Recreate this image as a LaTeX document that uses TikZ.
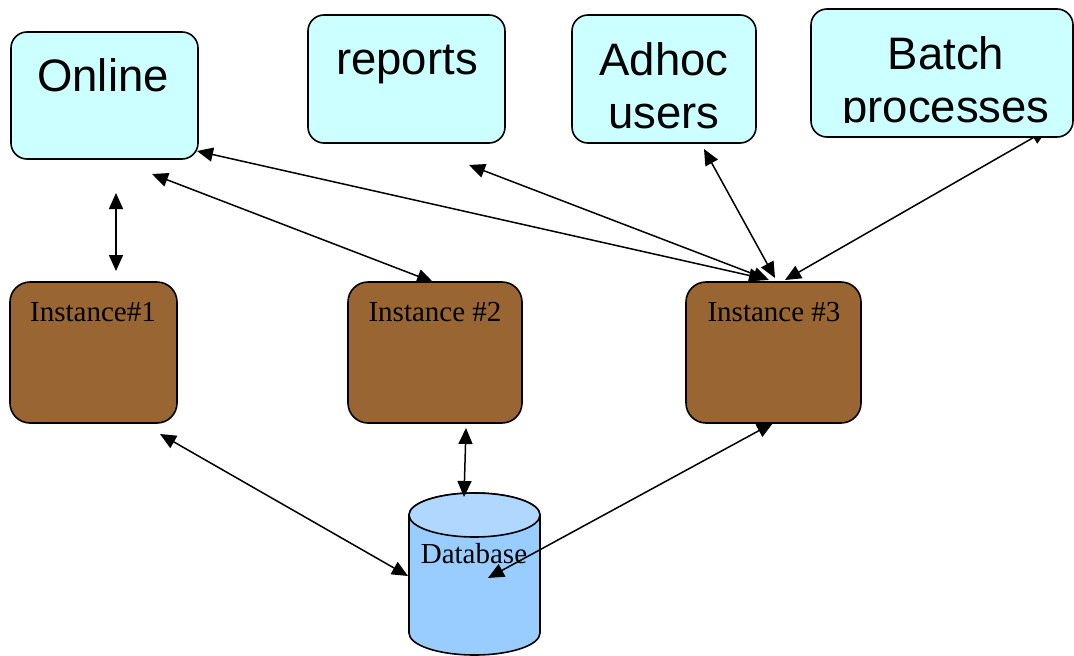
\documentclass[tikz,border=0pt]{standalone}
\usepackage{fontspec}
\setmainfont{Liberation Serif}
\newfontfamily\labelsans{Liberation Sans}
\usetikzlibrary{arrows.meta}
\definecolor{userfill}{HTML}{CCFFFF}
\definecolor{instfill}{HTML}{996633}
\definecolor{dbside}{HTML}{99CCFF}
\definecolor{dbtop}{HTML}{B0D8FF}
\tikzset{
  userbox/.style={draw=black, line width=1.6pt, fill=userfill, rounded corners=16pt, inner sep=0pt},
  instbox/.style={draw=black, line width=1.6pt, fill=instfill, rounded corners=20pt, inner sep=0pt,
    minimum height=141pt},
  usertext/.style={inner sep=0pt, align=center, font=\labelsans\fontsize{45.5}{53}\selectfont},
  insttext/.style={inner sep=0pt, font=\fontsize{29}{34}\selectfont},
  link/.style={{Triangle[length=16pt,width=14pt]}-{Triangle[length=16pt,width=14pt]}, line width=1.5pt},
}
\begin{document}
\begin{tikzpicture}[x=1pt,y=-1pt]
\useasboundingbox (0,0) rectangle (1074,656);

% instances
\node[instbox, minimum width=167pt] (i1) at (93.5,352.5) {};
\node[instbox, minimum width=174pt] (i2) at (435,352.5) {};
\node[instbox, minimum width=175pt] (i3) at (773.5,352.5) {};
\node[insttext, anchor=base] (i1l) at (93,321) {Instance\#1};
\node[insttext, anchor=base] (i2l) at (435,321) {Instance \#2};
\node[insttext, anchor=base] (i3l) at (774,321) {Instance \#3};

% connector ends
\coordinate (o1) at (116,193);  \coordinate (i1t) at (116,271);
\coordinate (o2) at (152,174);  \coordinate (i2t) at (433,282);
\coordinate (o3) at (197,151);  \coordinate (i3a) at (765,279);
\coordinate (r3) at (469,165);  \coordinate (i3b) at (769,280);
\coordinate (a3) at (704,149);  \coordinate (i3c) at (775,278);
\coordinate (b3) at (1047.5,129.5); \coordinate (i3d) at (785,280);
\coordinate (i1b) at (160,434); \coordinate (dbl) at (408,576);
\coordinate (i2b) at (466,428); \coordinate (dbt) at (464,497);
\coordinate (i3e) at (773,423); \coordinate (dbi) at (488,578);

% batch link runs under its box
\draw[link] (b3) -- (i3d);

% user boxes
\node[userbox, minimum width=187pt, minimum height=127pt] (online) at (104.5,95.5) {};
\node[userbox, minimum width=197pt, minimum height=128pt] (reports) at (406.5,79) {};
\node[userbox, minimum width=184pt, minimum height=128pt] (adhoc) at (664,79) {};
\node[userbox, minimum width=262pt, minimum height=128pt] (batch) at (942,73) {};
\node[usertext, anchor=base] (onlinel) at (103,91) {Online};
\node[usertext, anchor=base] (reportsl) at (407,74) {reports};
\node[usertext, anchor=north] (adhocl) at (664,42) {Adhoc\\users};
\begin{scope}
  \clip (811,9) rectangle (1073,122);
  \node[usertext, anchor=north] (batchl) at (946,36) {Batch\\processes};
\end{scope}

% database cylinder
\path[fill=dbside, draw=black, line width=1.6pt]
  (409,515) -- (409,633) arc[start angle=180, end angle=360, x radius=65.5pt, y radius=22pt]
  -- (540,515) arc[start angle=0, end angle=180, x radius=65.5pt, y radius=22pt] -- cycle;
\draw[fill=dbtop, line width=1.6pt] (474.5,515) ellipse[x radius=65.5pt, y radius=22pt];
\node[insttext, anchor=base] (db) at (474,563) {Database};

% links
\draw[link] (o1) -- (i1t);
\draw[link] (o2) -- (i2t);
\draw[link] (o3) -- (i3a);
\draw[link] (r3) -- (i3b);
\draw[link] (a3) -- (i3c);
\draw[link] (i1b) -- (dbl);
\draw[link] (i2b) -- (dbt);
\draw[link] (i3e) -- (dbi);
\end{tikzpicture}
\end{document}
